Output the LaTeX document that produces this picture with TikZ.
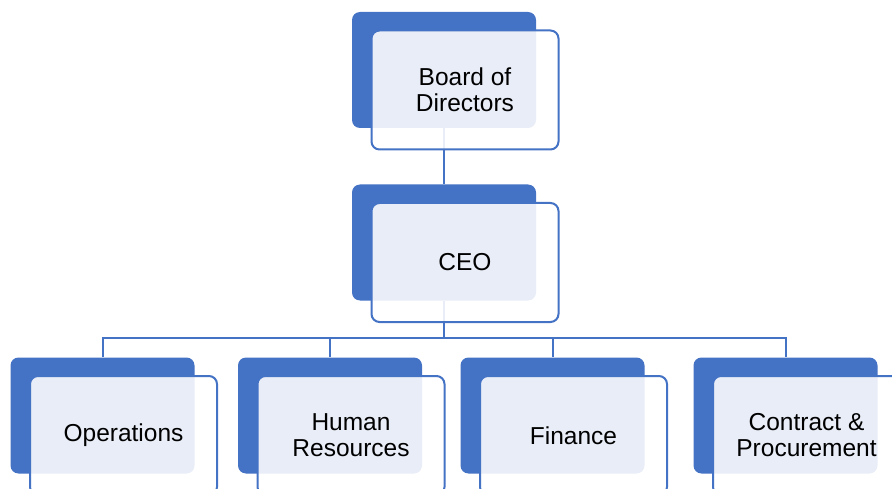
\documentclass[tikz,border=0pt]{standalone}
\usepackage{fontspec}
\setmainfont{Liberation Sans}
\usepackage{tikz}
\usetikzlibrary{calc}
\definecolor{boxblue}{HTML}{4472C4}

\begin{document}
\begin{tikzpicture}[x=1pt,y=-1pt,
	backbox/.style={fill=boxblue,rounded corners=8pt,minimum width=184pt,minimum height=116pt,inner sep=0pt},
	frontbox/.style={draw=boxblue,line width=2pt,fill=white,fill opacity=0.88,text opacity=1,rounded corners=8pt,
		minimum width=187pt,minimum height=119pt,inner sep=0pt,align=center,
		font=\fontsize{24.5}{26}\selectfont},
	link/.style={draw=boxblue,line width=2pt}]
	\useasboundingbox (0,0) rectangle (892,489);
	\newcommand{\dx}{21} %front box offset
	\newcommand{\dy}{20}
	\node[backbox] (bd) at (444,70) {}; %board
	\node[backbox] (ceo) at (444,242.5) {}; %ceo
	\foreach \nm/\x in {ops/102.5,hr/330,fin/552.5,cp/785.5}{ %departments
		\node[backbox] (\nm) at (\x,415.5) {};
	}
	\coordinate (bus) at (444,338);
	\draw[link] (bd.south) -- (ceo.north);
	\draw[link] (ceo.south) -- (bus);
	\foreach \nm in {ops,hr,fin,cp}{
		\draw[link] (bus) -| (\nm.north);
	}
	\node[frontbox] (bd-t) at ($(bd)+(\dx,\dy)$) {Board of\\Directors};
	\node[frontbox] (ceo-t) at ($(ceo)+(\dx,\dy)$) {CEO};
	\foreach \nm/\txt in {ops/Operations,hr/{Human\\Resources},fin/Finance,cp/{Contract \&\\Procurement}}{
		\node[frontbox] (\nm-t) at ($(\nm)+(\dx,\dy)$) {\txt};
	}
\end{tikzpicture}
\end{document}
